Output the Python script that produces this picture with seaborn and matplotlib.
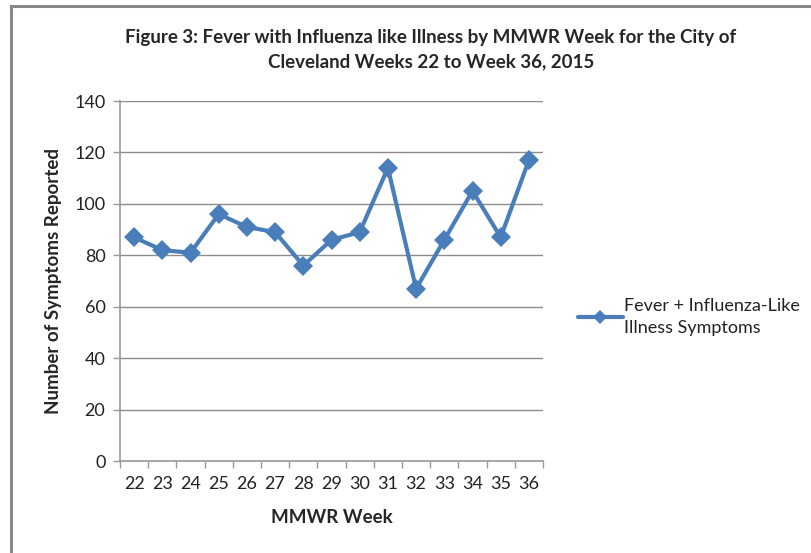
import matplotlib
matplotlib.use("Agg")
import matplotlib.pyplot as plt
from matplotlib.patches import Rectangle
import seaborn as sns
import pandas as pd

weeks = [22, 23, 24, 25, 26, 27, 28, 29, 30, 31, 32, 33, 34, 35, 36]
symptoms = [87, 82, 81, 96, 91, 89, 76, 86, 89, 114, 67, 86, 105, 87, 117]
series_name = "Fever + Influenza-Like\nIllness Symptoms"
y_ticks = [0, 20, 40, 60, 80, 100, 120, 140]

df = pd.DataFrame({"pos": range(len(weeks)), "week": weeks, "count": symptoms})

sns.set_style("white")
plt.rcParams["font.family"] = ["Lato", "DejaVu Sans"]

fig = plt.figure(figsize=(8.11, 5.53), dpi=100)
ax = fig.add_axes([120 / 811, 1 - 461 / 553, 423 / 811, 360 / 553])

color = "#4a7ebb"
sns.lineplot(data=df, x="pos", y="count", ax=ax, color=color, lw=3,
             marker="D", markersize=10, markeredgewidth=0, label=series_name)

ax.set_xlim(-0.5, len(weeks) - 0.5)
ax.set_ylim(0, 140)
ax.set_yticks(y_ticks)
ax.set_xticks(range(len(weeks)))
ax.set_xticklabels([str(w) for w in weeks])
ax.set_xticks([i - 0.5 for i in range(len(weeks) + 1)], minor=True)
ax.tick_params(axis="x", which="major", length=0, labelsize=13, pad=11, colors="#222222")
ax.tick_params(axis="x", which="minor", length=5, width=1, color="#999999",
               direction="out", bottom=True)
ax.tick_params(axis="y", length=5, width=1, direction="out", left=True,
               labelsize=13, pad=5.5, colors="#222222")
ax.tick_params(axis="y", color="#999999")
ax.yaxis.grid(True, color="#8c8c8c", lw=1)
ax.xaxis.grid(False)
for s in ["top", "right"]:
    ax.spines[s].set_visible(False)
for s in ["left", "bottom"]:
    ax.spines[s].set_color("#999999")
    ax.spines[s].set_linewidth(1.2)

ax.set_xlabel("MMWR Week", fontsize=13.5, fontweight="bold", labelpad=12)
ax.set_ylabel("Number of Symptoms Reported", fontsize=13.5, fontweight="bold", labelpad=9)

fig.suptitle("Figure 3: Fever with Influenza like Illness by MMWR Week for the City of\n"
             "Cleveland Weeks 22 to Week 36, 2015",
             x=0.531, y=0.948, va="top", fontsize=13.5, fontweight="bold", linespacing=1.5)

leg = ax.legend(loc="center left", bbox_to_anchor=(1.065, 0.40), frameon=False,
                fontsize=13, handlelength=2.5, handletextpad=0.05, borderaxespad=0,
                labelspacing=0.2, markerscale=0.75)
for t in leg.get_texts():
    t.set_color("#222222")
    t.set_linespacing(1.4)

fig.patches.append(Rectangle((11 / 811, -0.1), 1.2, 1 - 6 / 553 + 0.1,
                             transform=fig.transFigure, fill=False,
                             edgecolor="#888888", lw=2.2))

fig.savefig("out.png", dpi=100)
